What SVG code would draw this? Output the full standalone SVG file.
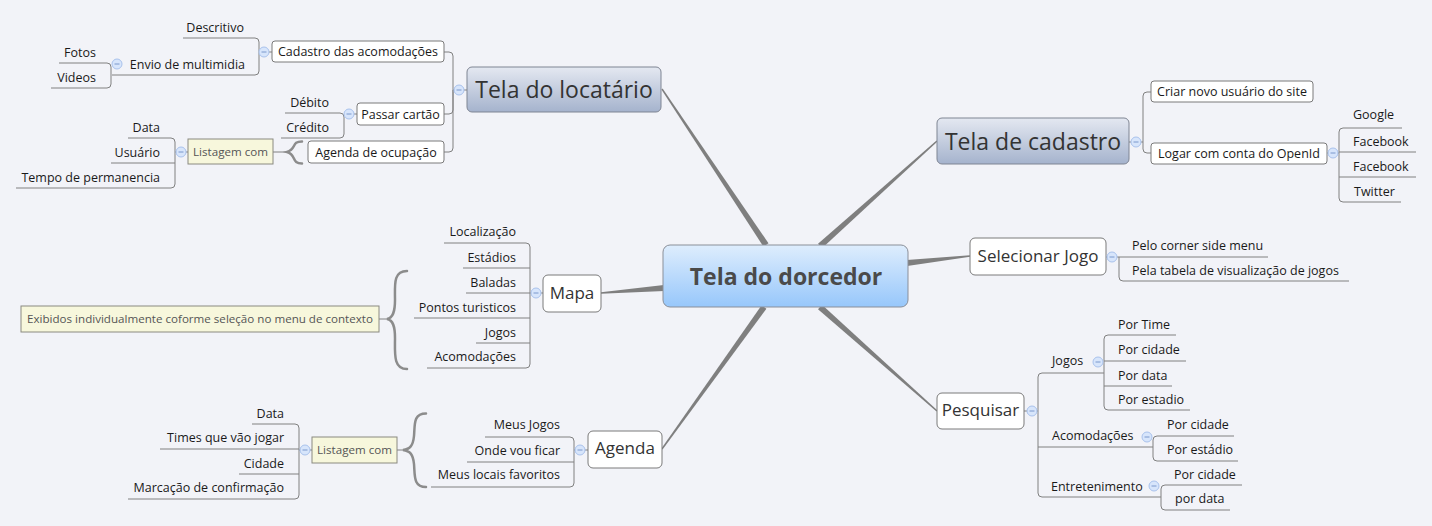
<svg xmlns="http://www.w3.org/2000/svg" width="1432" height="526" viewBox="0 0 1432 526">
<style>
.s{font-family:"Open Sans","Noto Sans",sans-serif;font-size:12.5px;fill:#1a1a1a}
.e{text-anchor:end}
.m{font-family:"Open Sans","Noto Sans",sans-serif;font-size:17px;fill:#333;text-anchor:middle}
.l{font-family:"Open Sans","Noto Sans",sans-serif;font-size:23px;fill:#333;text-anchor:middle}
.c{font-family:"Open Sans","Noto Sans",sans-serif;font-size:23px;font-weight:bold;fill:#4a4a4a;text-anchor:middle}
.n{font-family:"Open Sans","Noto Sans",sans-serif;font-size:11.6px;fill:#555;text-anchor:middle}
.ctr{text-anchor:middle}
.bx{fill:#fff;stroke:#7a7a7a;stroke-width:1}
.nt{fill:#f7f7dc;stroke:#8a8a80;stroke-width:1}
.ln{fill:none;stroke:#808080;stroke-width:1}
.br{fill:none;stroke:#8c8c8c;stroke-width:2.5;stroke-linecap:round}
.th{fill:#7f7f7f}
</style>
<defs>
<linearGradient id="gC" x1="0" y1="0" x2="0" y2="1"><stop offset="0" stop-color="#deedfd"/><stop offset="1" stop-color="#97c7fb"/></linearGradient>
<linearGradient id="gM" x1="0" y1="0" x2="0" y2="1"><stop offset="0" stop-color="#e4e8f1"/><stop offset="1" stop-color="#a5b3cd"/></linearGradient>
<g id="col"><circle r="5" fill="#d7e5fb" stroke="#a9c2ec" stroke-width="1"/><line x1="-2.5" y1="0" x2="2.5" y2="0" stroke="#7b98cc" stroke-width="1"/></g>
</defs>
<rect width="1432" height="526" fill="#f2f3f8"/>

<g id="connectors">
<polygon class="th" points="768.5,243.3 662.6,88.6 661.4,89.4 763.5,246.7"/>
<polygon class="th" points="822,248.2 937.5,141.6 936.5,140.4 818,243.8"/>
<polygon class="th" points="664.2,291 601.1,293.8 600.9,292.2 663.8,285"/>
<polygon class="th" points="907.2,266 970.1,256.8 969.9,255.2 906.8,260"/>
<polygon class="th" points="766.4,308.8 662.6,449.4 661.4,448.6 761.6,305.2"/>
<polygon class="th" points="818,309.2 936.5,411.6 937.5,410.4 822,304.8"/>

<path class="ln" d="M467,90 H453 M453,90 V56 Q453,52 449,52 H444 M453,90 V110 Q453,114 449,114 H444 M453,90 V148 Q453,152 449,152 H444"/>
<path class="ln" d="M272,52 H259 M259,52 V42 Q259,38 255,38 H183 M259,52 V71 Q259,75 255,75 H112"/>
<path class="ln" d="M111,75 V67 Q111,63 107,63 H59 M111,75 V84 Q111,88 107,88 H51"/>
<path class="ln" d="M357,114 H344 M285,113 H340 Q344,113 344,117 V134 Q344,138 340,138 H281"/>
<path class="ln" d="M188,152 H175 M128,138 H171 Q175,138 175,142 V184 Q175,188 171,188 H16 M111,163 H175"/>
<path class="ln" d="M273,152 H286"/>
<path class="br" d="M302,141.5 C291,141.5 297,149 287,152 C297,155 291,163.5 302,163.5"/>

<path class="ln" d="M543,293 H530 M444,243 H526 Q530,243 530,247 V364 Q530,368 526,368 H427 M463,268 H530 M466,293 H530 M414,318 H530 M476,343 H530"/>
<path class="ln" d="M379,319 H387"/>
<path class="br" d="M407,271 C393,271 395,285 395,300 C395,312 393,318 387,319 C393,320 395,326 395,338 C395,353 393,369 407,369"/>

<path class="ln" d="M588,450 H574 M485,437 H570 Q574,437 574,441 V483 Q574,487 570,487 H431 M467,462 H574"/>
<path class="ln" d="M397,450 H403"/>
<path class="br" d="M426,413.5 C413,413.5 415,425 414,436 C413,446 410,449 403,450 C410,451 413,454 414,464 C415,475 413,487 426,487"/>
<path class="ln" d="M312,450 H299 M252,424 H295 Q299,424 299,428 V495 Q299,499 295,499 H128 M160,449 H299 M239,474 H299"/>

<path class="ln" d="M1129,142 H1143 M1151,92 H1147 Q1143,92 1143,96 V149 Q1143,153 1147,153 H1151"/>
<path class="ln" d="M1327,153 H1339 M1402,128 H1343 Q1339,128 1339,132 V198 Q1339,202 1343,202 H1401 M1339,152 H1416 M1339,177 H1416"/>
<path class="ln" d="M1106,257 H1119 M1268,257 H1119 V277 Q1119,281 1123,281 H1349"/>
<path class="ln" d="M1024,411 H1038 M1104,373 H1042 Q1038,373 1038,377 V493 Q1038,497 1042,497 H1161 M1038,447 H1153"/>
<path class="ln" d="M1176,335 H1108 Q1104,335 1104,339 V406 Q1104,410 1108,410 H1190 M1104,361 H1186 M1104,386 H1172"/>
<path class="ln" d="M1234,436 H1157 Q1153,436 1153,440 V457 Q1153,461 1157,461 H1238"/>
<path class="ln" d="M1242,485 H1165 Q1161,485 1161,489 V506 Q1161,510 1165,510 H1230"/>
</g>

<g id="central"><rect x="663" y="245" width="245" height="62" rx="7" fill="url(#gC)" stroke="#8a8f99"/><text class="c" x="786" y="285">Tela do dorcedor</text></g>

<g id="tela-locatario"><rect x="467" y="67" width="194" height="45" rx="5" fill="url(#gM)" stroke="#7f8593"/><text class="l" x="564" y="98">Tela do locatário</text></g>
<g id="cadastro-acomodacoes"><rect class="bx" x="272" y="41" width="172" height="21" rx="3"/><text class="s ctr" x="358" y="56">Cadastro das acomodações</text></g>
<g id="descritivo"><text class="s e" x="244" y="32">Descritivo</text></g>
<g id="envio"><text class="s e" x="245" y="69">Envio de multimidia</text></g>
<g id="fotos"><text class="s e" x="96" y="57">Fotos</text></g>
<g id="videos"><text class="s e" x="96" y="82">Videos</text></g>
<g id="passar-cartao"><rect class="bx" x="357" y="103" width="87" height="22" rx="3"/><text class="s ctr" x="400.5" y="118.5">Passar cartão</text></g>
<g id="debito"><text class="s e" x="329" y="107">Débito</text></g>
<g id="credito"><text class="s e" x="329" y="132">Crédito</text></g>
<g id="agenda-ocupacao"><rect class="bx" x="308" y="141" width="136" height="22" rx="3"/><text class="s ctr" x="376" y="156.5">Agenda de ocupação</text></g>
<g id="listagem1"><rect class="nt" x="188" y="139" width="85" height="25"/><text class="n" x="230.5" y="156">Listagem com</text></g>
<g id="data1"><text class="s e" x="160" y="132">Data</text></g>
<g id="usuario"><text class="s e" x="160" y="157">Usuário</text></g>
<g id="tempo"><text class="s e" x="160" y="182">Tempo de permanencia</text></g>

<g id="mapa"><rect class="bx" x="543" y="275" width="58" height="37" rx="5"/><text class="m" x="572" y="299">Mapa</text></g>
<g id="localizacao"><text class="s e" x="516" y="236">Localização</text></g>
<g id="estadios"><text class="s e" x="516" y="262">Estádios</text></g>
<g id="baladas"><text class="s e" x="516" y="287">Baladas</text></g>
<g id="pontos"><text class="s e" x="516" y="312">Pontos turisticos</text></g>
<g id="jogos-mapa"><text class="s e" x="516" y="337">Jogos</text></g>
<g id="acomodacoes-mapa"><text class="s e" x="516" y="361">Acomodações</text></g>
<g id="exibidos"><rect class="nt" x="21" y="306" width="358" height="26"/><text class="n" x="200" y="323">Exibidos individualmente coforme seleção no menu de contexto</text></g>

<g id="agenda"><rect class="bx" x="588" y="431" width="74" height="37" rx="5"/><text class="m" x="625" y="454">Agenda</text></g>
<g id="meus-jogos"><text class="s e" x="560" y="429">Meus Jogos</text></g>
<g id="onde"><text class="s e" x="560" y="455">Onde vou ficar</text></g>
<g id="favoritos"><text class="s e" x="560" y="479">Meus locais favoritos</text></g>
<g id="listagem2"><rect class="nt" x="312" y="437" width="85" height="26"/><text class="n" x="354.5" y="454">Listagem com</text></g>
<g id="data2"><text class="s e" x="284" y="418">Data</text></g>
<g id="times"><text class="s e" x="284" y="442">Times que vão jogar</text></g>
<g id="cidade"><text class="s e" x="284" y="468">Cidade</text></g>
<g id="marcacao"><text class="s e" x="284" y="492">Marcação de confirmação</text></g>

<g id="tela-cadastro"><rect x="937" y="118" width="192" height="46" rx="5" fill="url(#gM)" stroke="#7f8593"/><text class="l" x="1033" y="150">Tela de cadastro</text></g>
<g id="criar"><rect class="bx" x="1151" y="81" width="162" height="21" rx="3"/><text class="s ctr" x="1232" y="96">Criar novo usuário do site</text></g>
<g id="logar"><rect class="bx" x="1151" y="143" width="176" height="21" rx="3"/><text class="s ctr" x="1239" y="158">Logar com conta do OpenId</text></g>
<g id="google"><text class="s" x="1353" y="119">Google</text></g>
<g id="facebook1"><text class="s" x="1353" y="146">Facebook</text></g>
<g id="facebook2"><text class="s" x="1353" y="171">Facebook</text></g>
<g id="twitter"><text class="s" x="1354" y="196">Twitter</text></g>

<g id="selecionar"><rect class="bx" x="970" y="238" width="136" height="37" rx="5"/><text class="m" x="1038" y="262">Selecionar Jogo</text></g>
<g id="pelo-corner"><text class="s" x="1132" y="250">Pelo corner side menu</text></g>
<g id="pela-tabela"><text class="s" x="1132" y="275">Pela tabela de visualização de jogos</text></g>

<g id="pesquisar"><rect class="bx" x="937" y="393" width="87" height="36" rx="5"/><text class="m" x="980.5" y="416">Pesquisar</text></g>
<g id="jogos"><text class="s" x="1052" y="365">Jogos</text></g>
<g id="por-time"><text class="s" x="1118" y="329">Por Time</text></g>
<g id="por-cidade1"><text class="s" x="1118" y="354">Por cidade</text></g>
<g id="por-data1"><text class="s" x="1118" y="380">Por data</text></g>
<g id="por-estadio1"><text class="s" x="1118" y="404">Por estadio</text></g>
<g id="acomodacoes"><text class="s" x="1052" y="440">Acomodações</text></g>
<g id="por-cidade2"><text class="s" x="1167" y="429">Por cidade</text></g>
<g id="por-estadio2"><text class="s" x="1167" y="454">Por estádio</text></g>
<g id="entretenimento"><text class="s" x="1051" y="491">Entretenimento</text></g>
<g id="por-cidade3"><text class="s" x="1174" y="479">Por cidade</text></g>
<g id="por-data3"><text class="s" x="1175" y="503">por data</text></g>

<g id="collapse">
<use href="#col" x="459" y="90"/><use href="#col" x="264" y="52"/><use href="#col" x="117" y="64"/>
<use href="#col" x="349" y="114"/><use href="#col" x="181" y="152"/><use href="#col" x="536" y="293"/>
<use href="#col" x="580" y="450"/><use href="#col" x="305" y="450"/><use href="#col" x="1136" y="142"/>
<use href="#col" x="1333" y="153"/><use href="#col" x="1112" y="257"/><use href="#col" x="1032" y="411"/>
<use href="#col" x="1098" y="362"/><use href="#col" x="1147" y="437"/><use href="#col" x="1154" y="486"/>
</g>
</svg>
